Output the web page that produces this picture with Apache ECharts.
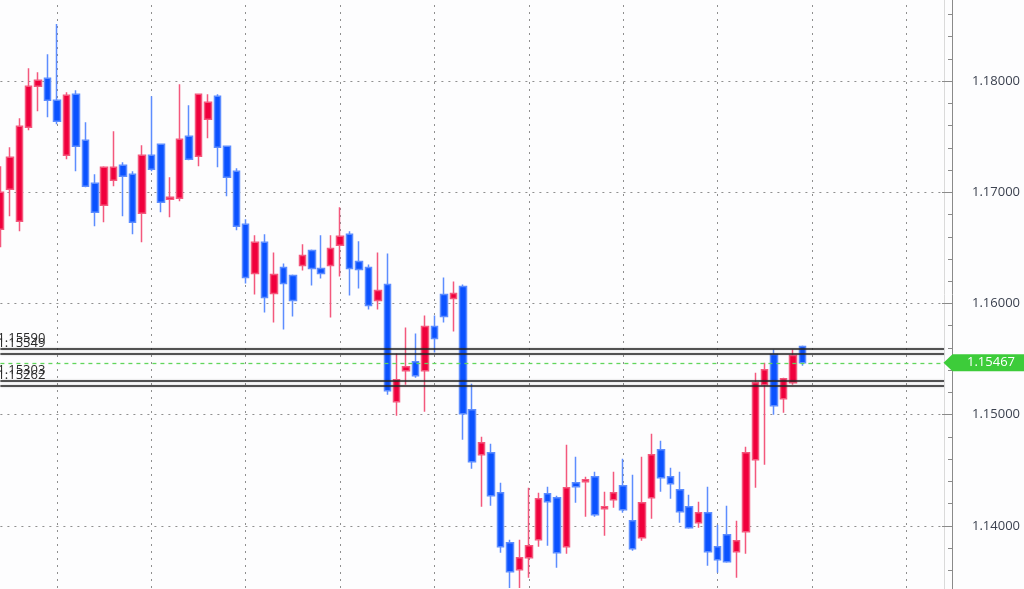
<!DOCTYPE html>
<html>
<head>
<meta charset="utf-8">
<script src="https://cdn.jsdelivr.net/npm/echarts@6/dist/echarts.min.js"></script>
<style>
html,body{margin:0;padding:0;background:#fdfdfe;}
#chart{width:1024px;height:589px;}
</style>
</head>
<body>
<div id="chart"></div>
<script>
// ---- data ----
const categories = Array.from({length: 101}, (_, i) => 'Bar ' + (i + 1));
const opens  = [1.16667,1.17027,1.16739,1.17586,1.17955,1.18027,1.17829,1.17333,1.17883,1.17468,
                1.17081,1.16883,1.17108,1.17243,1.17162,1.16811,1.17333,1.17432,1.16937,1.16946,
                1.17505,1.17324,1.17658,1.17865,1.17414,1.17189,1.16712,1.16270,1.16550,1.16090,
                1.16324,1.16252,1.16342,1.16477,1.16315,1.16342,1.16523,1.16622,1.16378,1.16324,
                1.16027,1.16171,1.15117,1.15396,1.15477,1.15396,1.15793,1.16081,1.16045,1.16153,
                1.15045,1.14640,1.14658,1.14297,1.13847,1.13604,1.13712,1.13874,1.14288,1.14252,
                1.13811,1.14387,1.14396,1.14441,1.14153,1.14234,1.14360,1.14045,1.13892,1.14252,
                1.14685,1.14441,1.14324,1.14171,1.14027,1.14117,1.13811,1.13919,1.13766,1.13946,
                1.14595,1.15270,1.15541,1.15144,1.15288,1.15613];
const closes = [1.17000,1.17315,1.17595,1.17955,1.18009,1.17829,1.17640,1.17874,1.17414,1.17054,
                1.16820,1.17225,1.17225,1.17144,1.16730,1.17333,1.17207,1.16910,1.16955,1.17477,
                1.17297,1.17883,1.17811,1.17405,1.17135,1.16694,1.16234,1.16550,1.16054,1.16261,
                1.16180,1.16027,1.16432,1.16315,1.16270,1.16495,1.16604,1.16315,1.16306,1.15982,
                1.16117,1.15216,1.15315,1.15432,1.15351,1.15793,1.15685,1.15883,1.16090,1.15009,
                1.14577,1.14748,1.14270,1.13811,1.13586,1.13712,1.13820,1.14243,1.14216,1.13757,
                1.14342,1.14351,1.14414,1.14099,1.14171,1.14297,1.14144,1.13793,1.14207,1.14640,
                1.14432,1.14378,1.14126,1.13982,1.14117,1.13766,1.13694,1.13676,1.13865,1.14658,
                1.15288,1.15405,1.15081,1.15324,1.15532,1.15467];
const lows   = [1.16505,1.16784,1.16649,1.17559,1.17730,1.17676,1.17613,1.17297,1.17189,1.17045,
                1.16694,1.16730,1.17054,1.16784,1.16622,1.16550,1.17189,1.16820,1.16775,1.16919,
                1.17288,1.17234,1.17486,1.17225,1.16964,1.16658,1.16180,1.16081,1.15919,1.15829,
                1.15766,1.15883,1.16297,1.16162,1.16225,1.15874,1.16243,1.16072,1.16135,1.15946,
                1.15946,1.15180,1.14991,1.15270,1.15333,1.15027,1.15559,1.15829,1.15748,1.14775,
                1.14514,1.14171,1.14180,1.13757,1.13440,1.13440,1.13532,1.13811,1.13820,1.13622,
                1.13748,1.14207,1.14081,1.14081,1.13910,1.14162,1.14117,1.13775,1.13865,1.14063,
                1.14306,1.14243,1.14027,1.13973,1.13982,1.13640,1.13577,1.13667,1.13532,1.13748,
                1.14342,1.14550,1.15000,1.15018,1.15270,1.15441];
const highs  = [1.17234,1.17405,1.17667,1.18117,1.18081,1.18243,1.18514,1.17901,1.17919,1.17631,
                1.17162,1.17234,1.17550,1.17270,1.17189,1.17423,1.17865,1.17440,1.17135,1.17973,
                1.17784,1.17890,1.17883,1.17883,1.17420,1.17216,1.16757,1.16613,1.16622,1.16459,
                1.16360,1.16261,1.16532,1.16486,1.16613,1.16613,1.16865,1.16649,1.16559,1.16351,
                1.16459,1.16450,1.15550,1.15784,1.15730,1.15892,1.15892,1.16234,1.16198,1.16171,
                1.15279,1.14802,1.14739,1.14387,1.13874,1.13874,1.14342,1.14297,1.14351,1.14270,
                1.14730,1.14622,1.14441,1.14486,1.14306,1.14486,1.14604,1.14459,1.14622,1.14829,
                1.14766,1.14522,1.14486,1.14279,1.14216,1.14351,1.14009,1.14180,1.14045,1.14712,
                1.15378,1.15468,1.15586,1.15333,1.15586,1.15622];
const levels = [1.15590, 1.15549, 1.15303, 1.15262];
const currentPrice = 1.15467;
const yTicks = {min: 1.13, max: 1.19, interval: 0.01};

// ---- build ----
const candleData = opens.map((o, i) => [o, closes[i], lows[i], highs[i]]);
const gridLine = {color: '#8f8f8f', width: 1, type: [2, 5]};

const levelLines = levels.map(v => ({
  yAxis: v,
  lineStyle: {color: '#262626', width: 1.6, type: 'solid',
              shadowColor: 'rgba(0,0,0,0.3)', shadowBlur: 2},
  label: {show: true, position: 'insideStartTop', distance: [-3, 4],
          formatter: p => Number(p.value).toFixed(5),
          color: '#2a2a2a', fontSize: 13, fontFamily: 'Open Sans'}
}));
const priceLine = {
  yAxis: currentPrice,
  lineStyle: {color: '#62d65c', width: 1.3, type: [4, 4]},
  label: {show: false}
};

const chart = echarts.init(document.getElementById('chart'), null, {renderer: 'canvas'});
chart.setOption({
  animation: false,
  backgroundColor: '#fdfdfe',
  grid: {left: 0.4, right: 80, top: -30, bottom: -48, containLabel: false, outerBoundsMode: 'none'},
  xAxis: {
    type: 'category', data: categories, boundaryGap: false,
    axisLine: {show: false}, axisTick: {show: false}, axisLabel: {show: false},
    splitLine: {show: true, interval: (i) => i % 10 === 6, lineStyle: gridLine}
  },
  yAxis: [{
    type: 'value', position: 'right', offset: 8,
    min: yTicks.min, max: yTicks.max, interval: yTicks.interval,
    axisLine: {show: true, lineStyle: {color: '#8a8a8a', width: 1}},
    axisTick: {show: true, inside: true, length: 10, lineStyle: {color: '#8a8a8a'}},
    minorTick: {show: true, splitNumber: 5, length: 4, lineStyle: {color: '#8a8a8a'}},
    axisLabel: {margin: 20, color: '#3c4250', fontSize: 13, fontFamily: 'Open Sans',
                formatter: v => v.toFixed(5)},
    splitLine: {show: true, lineStyle: gridLine}
  }, {
    type: 'value', position: 'right', offset: 0,
    min: yTicks.min, max: yTicks.max,
    axisLine: {show: true, lineStyle: {color: '#dadada', width: 1}},
    axisTick: {show: false}, axisLabel: {show: false}, splitLine: {show: false}
  }],
  series: [{
    type: 'candlestick',
    data: candleData,
    barWidth: 7,
    itemStyle: {
      color: '#f0003c', color0: '#0b52ff',
      borderColor: '#f4587d', borderColor0: '#5d8dff', borderWidth: 1.5
    },
    markLine: {
      symbol: 'none', silent: true, animation: false, precision: 5,
      data: levelLines.concat([priceLine])
    },
    markPoint: {
      silent: true, animation: false, precision: 5,
      symbol: 'path://M0,8L9,0L81,0L81,16L9,16Z',
      symbolSize: [81, 17], symbolKeepAspect: false, symbolOffset: [40, 0],
      itemStyle: {color: '#3dcc3a'},
      label: {show: true, position: 'inside', offset: [7, 0], color: '#ffffff',
              fontSize: 13, fontFamily: 'Open Sans', formatter: p => Number(p.value).toFixed(5)},
      data: [{coord: [categories[categories.length - 1], currentPrice], value: currentPrice}]
    }
  }]
});
</script>
</body>
</html>
